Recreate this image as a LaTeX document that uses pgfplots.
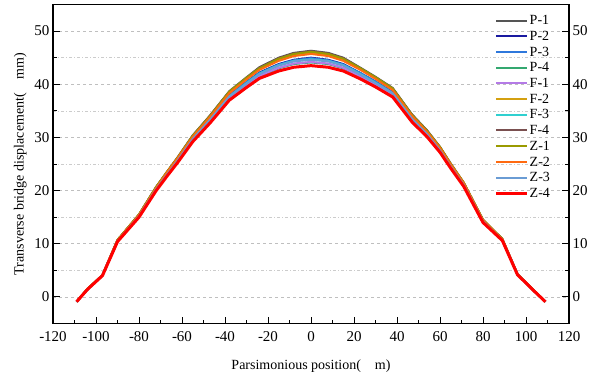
\documentclass[border=0pt]{standalone}
\usepackage{pgfplots}
\pgfplotsset{compat=1.18}
\usepackage{pgfplotstable}
\usepackage{fontspec}
\setmainfont{Liberation Serif}
\definecolor{cP1}{HTML}{555555}
\definecolor{cP2}{HTML}{1A1AA0}
\definecolor{cP3}{HTML}{2E78DC}
\definecolor{cP4}{HTML}{34A870}
\definecolor{cF1}{HTML}{B47AE6}
\definecolor{cF2}{HTML}{D4A010}
\definecolor{cF3}{HTML}{30D0D0}
\definecolor{cF4}{HTML}{7A5050}
\definecolor{cZ1}{HTML}{9A9A00}
\definecolor{cZ2}{HTML}{FF6A10}
\definecolor{cZ3}{HTML}{6A9CD4}
\definecolor{cZ4}{HTML}{FF0000}
\pgfplotstableread{
x P1 P2 P3 P4 F1 F2 F3 F4 Z1 Z2 Z3 Z4
-109 -0.9 -0.9 -0.9 -0.9 -0.9 -0.9 -0.9 -0.9 -0.9 -0.9 -0.9 -0.9
-104 1.5 1.4 1.4 1.4 1.4 1.5 1.4 1.5 1.5 1.4 1.4 1.4
-97 4.1 4.1 4.1 4.0 4.0 4.1 4.1 4.1 4.1 4.1 4.1 4.0
-90 10.7 10.6 10.5 10.5 10.5 10.7 10.5 10.7 10.7 10.6 10.5 10.4
-80 15.5 15.3 15.3 15.1 15.1 15.5 15.2 15.5 15.5 15.4 15.2 15.0
-72 20.7 20.4 20.4 20.2 20.2 20.6 20.3 20.7 20.7 20.5 20.3 20.0
-67 23.5 23.2 23.1 22.9 22.9 23.5 23.1 23.5 23.5 23.4 23.0 22.7
-62 26.3 25.8 25.8 25.5 25.5 26.2 25.7 26.2 26.2 26.1 25.7 25.3
-55 30.4 29.8 29.8 29.5 29.5 30.3 29.7 30.3 30.3 30.1 29.7 29.2
-47 34.1 33.5 33.4 33.0 33.1 34.0 33.3 34.1 34.0 33.8 33.3 32.7
-38 38.7 37.9 37.8 37.4 37.4 38.5 37.7 38.6 38.6 38.3 37.7 37.0
-30 41.3 40.4 40.4 39.8 39.9 41.1 40.2 41.2 41.2 40.9 40.1 39.4
-24 43.2 42.2 42.1 41.5 41.6 43.0 42.0 43.1 43.0 42.7 41.9 41.1
-15 45.0 43.8 43.7 43.0 43.1 44.7 43.6 44.9 44.8 44.4 43.5 42.5
-8 45.9 44.6 44.5 43.8 43.9 45.6 44.4 45.8 45.7 45.3 44.3 43.2
0 46.3 45.0 44.9 44.1 44.2 46.0 44.7 46.2 46.1 45.7 44.6 43.5
8 45.9 44.6 44.5 43.8 43.9 45.6 44.4 45.8 45.7 45.3 44.3 43.2
15 45.0 43.8 43.7 43.0 43.1 44.7 43.6 44.9 44.8 44.4 43.5 42.5
23 43.1 42.1 42.1 41.5 41.5 42.9 41.9 43.0 43.0 42.7 41.8 41.0
30 41.4 40.5 40.5 39.9 40.0 41.2 40.3 41.3 41.3 41.0 40.2 39.5
38 39.3 38.5 38.4 38.0 38.0 39.1 38.3 39.2 39.2 38.9 38.3 37.6
47 34.3 33.7 33.6 33.2 33.3 34.2 33.5 34.3 34.2 34.0 33.5 32.9
54 31.3 30.7 30.7 30.4 30.4 31.2 30.6 31.3 31.2 31.0 30.6 30.1
60 28.2 27.8 27.7 27.4 27.5 28.1 27.6 28.2 28.2 28.0 27.6 27.2
65 25.1 24.7 24.6 24.4 24.4 25.0 24.6 25.0 25.0 24.9 24.5 24.2
71 21.5 21.2 21.2 21.0 21.0 21.5 21.1 21.5 21.5 21.4 21.1 20.8
80 14.5 14.3 14.3 14.1 14.1 14.5 14.2 14.5 14.5 14.4 14.2 14.0
89 10.9 10.8 10.7 10.7 10.7 10.9 10.7 10.9 10.9 10.8 10.7 10.6
96 4.3 4.3 4.3 4.2 4.2 4.3 4.3 4.3 4.3 4.3 4.3 4.2
103 1.5 1.4 1.4 1.4 1.4 1.5 1.4 1.5 1.5 1.4 1.4 1.4
109 -0.9 -0.9 -0.9 -0.9 -0.9 -0.9 -0.9 -0.9 -0.9 -0.9 -0.9 -0.9
}\datatable
\begin{document}
\begin{tikzpicture}
\pgfplotsset{
  base/.style={
    scale only axis, width=516pt, height=319pt,
    xmin=-120, xmax=120, ymin=-5, ymax=55,
    axis line style={line width=1.1pt},
    tick align=inside,
    major tick length=7pt, minor tick length=4pt,
    every tick/.style={black, line width=1pt},
    /pgf/number format/assume math mode=true,
    ticklabel style={font=\fontsize{15}{17}\selectfont},
    label style={font=\fontsize{14}{16}\selectfont},
  }
}
\begin{axis}[base, name=ax,
  xtick={-120,-100,...,120}, minor xtick={-110,-90,...,110},
  ytick={0,10,...,50}, minor ytick={-5,5,15,...,55},
  xtick pos=bottom, ytick pos=left,
  ymajorgrids, yminorgrids,
  major grid style={gray!50, dashed, line width=0.6pt},
  minor grid style={gray!40, dash pattern=on 3pt off 2pt on 1pt off 2pt, line width=0.6pt},
  xticklabel style={yshift=-4pt},
  xlabel={Parsimonious position(\quad m)},
  ylabel={Transverse bridge displacement(\quad mm)},
  xlabel style={yshift=-12pt},
  ylabel style={yshift=1pt},
  legend style={at={(0.965,0.975)}, anchor=north east, draw=none, fill=none,
    font=\fontsize{14}{16}\selectfont, row sep=0pt, inner sep=0pt,
    nodes={inner sep=0.8pt, text height=11.3pt, text depth=2.8pt}},
  legend cell align=left,
  legend image code/.code={\draw[#1] (0pt,0pt) -- (31pt,0pt);},
]
\addplot[cP1, no marks, line width=2pt] table[x=x,y=P1]{\datatable}; \addlegendentry{P-1}
\addplot[cP2, no marks, line width=2pt] table[x=x,y=P2]{\datatable}; \addlegendentry{P-2}
\addplot[cP3, no marks, line width=2pt] table[x=x,y=P3]{\datatable}; \addlegendentry{P-3}
\addplot[cP4, no marks, line width=2pt] table[x=x,y=P4]{\datatable}; \addlegendentry{P-4}
\addplot[cF1, no marks, line width=2pt] table[x=x,y=F1]{\datatable}; \addlegendentry{F-1}
\addplot[cF2, no marks, line width=2pt] table[x=x,y=F2]{\datatable}; \addlegendentry{F-2}
\addplot[cF3, no marks, line width=2pt] table[x=x,y=F3]{\datatable}; \addlegendentry{F-3}
\addplot[cF4, no marks, line width=2pt] table[x=x,y=F4]{\datatable}; \addlegendentry{F-4}
\addplot[cZ1, no marks, line width=2pt] table[x=x,y=Z1]{\datatable}; \addlegendentry{Z-1}
\addplot[cZ2, no marks, line width=2pt] table[x=x,y=Z2]{\datatable}; \addlegendentry{Z-2}
\addplot[cZ3, no marks, line width=2pt] table[x=x,y=Z3]{\datatable}; \addlegendentry{Z-3}
\addplot[cZ4, no marks, line width=3pt] table[x=x,y=Z4]{\datatable}; \addlegendentry{Z-4}
\end{axis}
\begin{axis}[base,
  axis x line=none, axis y line*=right,
  ytick={0,10,...,50}, minor ytick={-5,5,15,...,55},
  yticklabel pos=right,
]
\end{axis}
\pgfresetboundingbox
\path[use as bounding box] (ax.south west) ++(-53pt,-54.5pt) rectangle ++(600pt,378pt);
\end{tikzpicture}
\end{document}
